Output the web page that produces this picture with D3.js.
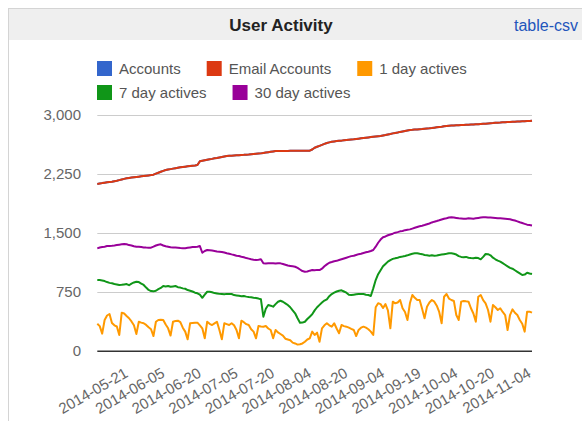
<!DOCTYPE html>
<html>
<head>
<meta charset="utf-8">
<script src="https://cdn.jsdelivr.net/npm/d3@7"></script>
<style>
  body { margin: 0; background: #fff; }
  svg { display: block; font-family: Arial, "Liberation Sans", sans-serif; }
</style>
</head>
<body>
<div id="chart"></div>
<script>
// series names, in draw order
const seriesNames = ["Accounts", "Email Accounts", "1 day actives", "7 day actives", "30 day actives"];
const seriesColors = ["#3366cc", "#dc3912", "#ff9900", "#109618", "#990099"];

// one value per day (179 days, last one is 2014-11-04)
const emailAccounts = [
  2126, 2132, 2138, 2143, 2148, 2152, 2156, 2162, 2168, 2176,
  2184, 2192, 2199, 2204, 2208, 2212, 2216, 2220, 2224, 2228,
  2232, 2236, 2240, 2245, 2258, 2270, 2282, 2294, 2304, 2310,
  2316, 2322, 2328, 2334, 2339, 2343, 2347, 2351, 2355, 2359,
  2363, 2368, 2415, 2422, 2428, 2434, 2440, 2446, 2453, 2458,
  2464, 2470, 2476, 2482, 2485, 2487, 2489, 2491, 2493, 2495,
  2497, 2500, 2502, 2505, 2508, 2511, 2514, 2516, 2521, 2526,
  2531, 2536, 2541, 2546, 2546, 2546, 2547, 2547, 2547, 2548,
  2548, 2548, 2549, 2549, 2549, 2550, 2550, 2550, 2565, 2588,
  2600, 2612, 2624, 2636, 2648, 2656, 2664, 2668, 2672, 2675,
  2678, 2682, 2686, 2690, 2693, 2695, 2699, 2703, 2707, 2711,
  2715, 2719, 2723, 2727, 2731, 2735, 2738, 2744, 2750, 2757,
  2763, 2770, 2776, 2782, 2789, 2795, 2801, 2807, 2813, 2815,
  2818, 2820, 2823, 2825, 2828, 2831, 2834, 2838, 2843, 2847,
  2851, 2855, 2860, 2864, 2868, 2870, 2871, 2873, 2874, 2876,
  2877, 2879, 2880, 2882, 2883, 2885, 2887, 2890, 2892, 2894,
  2897, 2899, 2901, 2904, 2906, 2908, 2911, 2912, 2914, 2915,
  2917, 2918, 2920, 2921, 2923, 2924, 2926, 2927, 2930
];

// the blue line is hidden exactly under the red one
const accounts = emailAccounts;

const oneDayActives = [
  350, 320, 225, 398, 455, 474, 360, 330, 315, 207,
  491, 480, 449, 420, 380, 330, 220, 376, 365, 356,
  335, 305, 280, 194, 376, 398, 400, 398, 340, 292,
  200, 376, 385, 389, 370, 300, 250, 152, 356, 360,
  364, 364, 330, 292, 165, 376, 350, 334, 355, 376,
  271, 152, 356, 345, 334, 356, 330, 271, 165, 389,
  370, 345, 334, 280, 250, 165, 322, 315, 313, 322,
  290, 271, 165, 271, 240, 220, 200, 160, 150, 140,
  110, 100, 85, 90, 100, 122, 150, 165, 250, 207,
  237, 122, 292, 330, 356, 330, 313, 356, 290, 229,
  334, 320, 313, 300, 285, 271, 194, 271, 300, 313,
  300, 280, 250, 207, 560, 610, 600, 550, 600, 520,
  292, 631, 610, 620, 652, 547, 500, 398, 610, 716,
  680, 652, 652, 540, 419, 567, 620, 652, 631, 580,
  500, 356, 694, 728, 670, 652, 640, 461, 398, 631,
  640, 635, 631, 547, 480, 376, 694, 716, 650, 610,
  525, 376, 588, 560, 525, 547, 500, 461, 271, 461,
  533, 490, 461, 398, 350, 250, 504, 504, 491
];

const sevenDayActives = [
  906, 905, 900, 893, 880, 870, 864, 855, 850, 843,
  845, 850, 855, 840, 860, 875, 885, 880, 860, 843,
  810, 780, 766, 762, 770, 790, 805, 830, 825, 830,
  820, 825, 830, 815, 810, 800, 795, 779, 770, 760,
  745, 737, 720, 680, 720, 757, 757, 750, 740, 735,
  730, 728, 725, 730, 728, 728, 715, 710, 705, 700,
  703, 695, 690, 686, 680, 678, 670, 661, 440, 540,
  588, 580, 567, 600, 630, 643, 630, 610, 588, 560,
  520, 483, 420, 364, 365, 376, 410, 440, 470, 520,
  560, 590, 620, 645, 661, 700, 728, 745, 760, 770,
  775, 760, 745, 720, 715, 720, 725, 728, 728, 728,
  720, 715, 703, 800, 906, 980, 1030, 1080, 1110, 1140,
  1160, 1175, 1182, 1190, 1200, 1205, 1211, 1220, 1230, 1240,
  1245, 1246, 1240, 1235, 1225, 1220, 1215, 1220, 1215, 1218,
  1225, 1230, 1235, 1240, 1246, 1246, 1240, 1230, 1210, 1200,
  1195, 1200, 1190, 1185, 1182, 1190, 1185, 1169, 1200, 1237,
  1235, 1220, 1190, 1170, 1152, 1140, 1120, 1100, 1080, 1060,
  1050, 1030, 1010, 990, 970, 975, 999, 990, 982
];

const thirtyDayActives = [
  1309, 1320, 1325, 1330, 1338, 1340, 1342, 1345, 1350, 1355,
  1360, 1364, 1360, 1350, 1345, 1335, 1330, 1330, 1325, 1320,
  1318, 1317, 1317, 1330, 1345, 1355, 1360, 1345, 1335, 1330,
  1322, 1320, 1318, 1315, 1312, 1310, 1309, 1315, 1320, 1325,
  1326, 1330, 1338, 1253, 1275, 1288, 1285, 1280, 1275, 1270,
  1266, 1262, 1255, 1246, 1240, 1232, 1225, 1215, 1211, 1202,
  1195, 1185, 1178, 1170, 1165, 1162, 1165, 1169, 1120, 1115,
  1118, 1120, 1118, 1115, 1118, 1118, 1110, 1100, 1090, 1085,
  1080, 1075, 1060, 1040, 1020, 1012, 1015, 1025, 1033, 1030,
  1035, 1033, 1050, 1080, 1105, 1126, 1135, 1145, 1150, 1160,
  1170, 1180, 1190, 1200, 1210, 1215, 1225, 1235, 1240, 1250,
  1258, 1266, 1275, 1288, 1330, 1380, 1420, 1450, 1460, 1475,
  1485, 1495, 1508, 1515, 1525, 1530, 1540, 1545, 1550, 1560,
  1570, 1580, 1590, 1597, 1605, 1615, 1625, 1638, 1648, 1656,
  1665, 1675, 1685, 1692, 1700, 1703, 1700, 1695, 1690, 1688,
  1686, 1686, 1690, 1688, 1685, 1690, 1695, 1700, 1703, 1703,
  1700, 1700, 1698, 1695, 1692, 1690, 1688, 1685, 1682, 1678,
  1670, 1662, 1652, 1640, 1630, 1620, 1610, 1605, 1600
];

// x axis: every 15th day gets a label, the first one on day 13
const xTickLabels = ["2014-05-21", "2014-06-05", "2014-06-20", "2014-07-05", "2014-07-20", "2014-08-04",
                     "2014-08-20", "2014-09-04", "2014-09-19", "2014-10-04", "2014-10-20", "2014-11-04"];
const labelEvery = 15, firstLabelAt = 13;
const yTicks = [0, 750, 1500, 2250, 3000];

document.addEventListener("DOMContentLoaded", function () {
    const width = 582,
          height = 421,
          plot = { left: 97.3, right: 532, top: 115.3, bottom: 351.3 };

    const allSeries = [accounts, emailAccounts, oneDayActives, sevenDayActives, thirtyDayActives];
    const days = d3.range(emailAccounts.length);

    const x = d3.scalePoint()
        .domain(days)
        .range([plot.left, plot.right]);

    const y = d3.scaleLinear()
        .domain([0, 3000])
        .range([plot.bottom, plot.top]);

    const svg = d3.select("#chart").append("svg")
        .attr("width", width)
        .attr("height", height);

    // panel frame + grey title bar
    svg.append("rect")
        .attr("x", 8.5).attr("y", 8.5)
        .attr("width", width).attr("height", height)
        .attr("fill", "#fff")
        .attr("stroke", "#d4d4d4");
    svg.append("rect")
        .attr("x", 9).attr("y", 9)
        .attr("width", width).attr("height", 31)
        .attr("fill", "#efefef");

    svg.append("text")
        .attr("x", 281).attr("y", 30.5)
        .attr("text-anchor", "middle")
        .style("font-size", "17px")
        .style("font-weight", "bold")
        .style("fill", "#222")
        .text("User Activity");

    svg.append("text")
        .attr("x", 578).attr("y", 30.5)
        .attr("text-anchor", "end")
        .style("font-size", "16px")
        .style("fill", "#2255bb")
        .text("table-csv");

    // legend, two rows
    const legendRows = [[0, 1, 2], [3, 4]];
    legendRows.forEach((row, r) => {
        let lx = 97;
        const ly = 61 + r * 24;
        row.forEach(i => {
            svg.append("rect")
                .attr("x", lx).attr("y", ly)
                .attr("width", 15).attr("height", 15)
                .attr("fill", seriesColors[i]);
            const t = svg.append("text")
                .attr("x", lx + 22).attr("y", ly + 13)
                .style("font-size", "15px")
                .style("fill", "#555")
                .text(seriesNames[i]);
            lx += 22 + t.node().getComputedTextLength() + 26;
        });
    });

    // gridlines
    svg.append("g")
        .selectAll("line")
        .data(yTicks.filter(d => d > 0))
        .join("line")
        .attr("x1", plot.left).attr("x2", plot.right)
        .attr("y1", d => Math.round(y(d)) + 0.5)
        .attr("y2", d => Math.round(y(d)) + 0.5)
        .attr("stroke", "#cccccc");

    // y labels
    svg.append("g")
        .selectAll("text")
        .data(yTicks)
        .join("text")
        .attr("x", 81)
        .attr("y", d => y(d) + 5)
        .attr("text-anchor", "end")
        .style("font-size", "15px")
        .style("fill", "#666")
        .text(d => d3.format(",")(d));

    // lines
    const line = d3.line()
        .x((d, i) => x(i))
        .y(d => y(d));

    svg.append("g")
        .selectAll("path")
        .data(allSeries)
        .join("path")
        .attr("fill", "none")
        .attr("stroke", (d, i) => seriesColors[i])
        .attr("stroke-width", 2)
        .attr("stroke-linejoin", "round")
        .attr("d", line);

    // baseline
    svg.append("line")
        .attr("x1", plot.left).attr("x2", plot.right)
        .attr("y1", y(0)).attr("y2", y(0))
        .attr("stroke", "#333")
        .attr("stroke-width", 1.5);

    // slanted date labels
    svg.append("g")
        .selectAll("text")
        .data(xTickLabels)
        .join("text")
        .attr("text-anchor", "end")
        .attr("transform", (d, k) => `translate(${x(firstLabelAt + k * labelEvery)},376) rotate(-30)`)
        .style("font-size", "15px")
        .style("fill", "#666")
        .text(d => d);
});
</script>
</body>
</html>
